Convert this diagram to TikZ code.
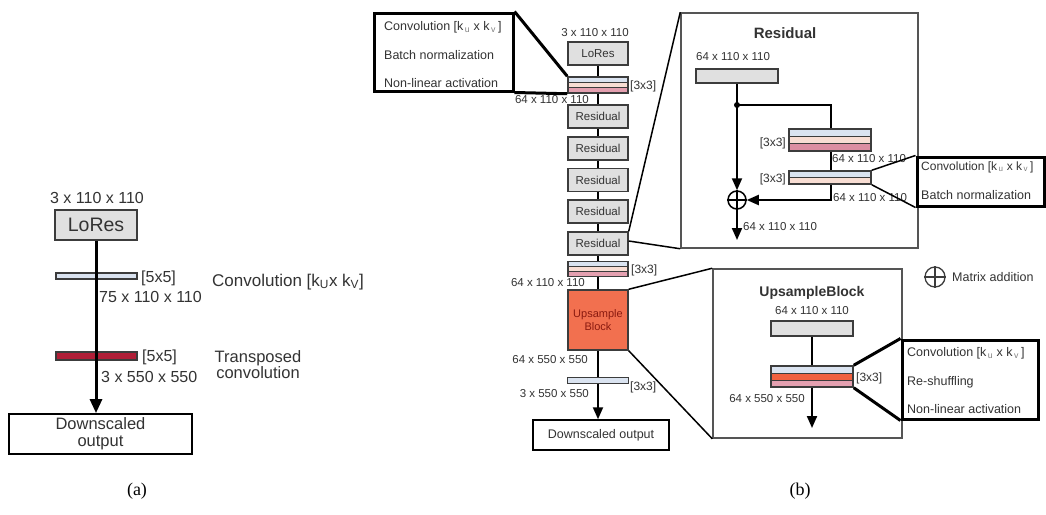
\documentclass[tikz,border=0pt]{standalone}
\usepackage{fontspec}
\setmainfont{Liberation Sans}
\newfontfamily\capfont{Liberation Serif}
\usetikzlibrary{calc,arrows.meta}
\definecolor{bord}{HTML}{3C3C3C}
\definecolor{txt}{HTML}{333333}
\definecolor{boxgray}{HTML}{E0E0E0}
\definecolor{cblue}{HTML}{DAE3F0}
\definecolor{cpeach}{HTML}{F8DDD3}
\definecolor{cpink}{HTML}{E4A0B0}
\definecolor{cpinkd}{HTML}{DC8EA2}
\definecolor{cred}{HTML}{F0603F}
\definecolor{upfill}{HTML}{F2704F}
\definecolor{uptext}{HTML}{8A1A10}
\definecolor{tconv}{HTML}{B01E37}
\definecolor{insetgray}{HTML}{555555}
\tikzset{
  fa/.style={font=\fontsize{16}{19}\selectfont, text=txt, inner sep=0pt},
  fb/.style={font=\fontsize{11.5}{13}\selectfont, text=txt, inner sep=0pt},
  fk/.style={font=\fontsize{12}{14}\selectfont, text=txt, inner sep=0pt},
  fi/.style={font=\fontsize{12.5}{14}\selectfont, text=txt, inner sep=0pt, anchor=west},
  blk/.style={draw=bord, line width=1.5pt, inner sep=0pt},
  graybox/.style={blk, fill=boxgray},
  insetbox/.style={draw=black, line width=3pt, inner sep=0pt},
  zoombox/.style={draw=insetgray, line width=1.5pt, inner sep=0pt},
  flow/.style={draw=black, line width=2pt},
  flowa/.style={draw=black, line width=3pt},
  tipb/.style={-{Triangle[length=12pt,width=10pt]}},
  tipa/.style={-{Triangle[length=14pt,width=12pt]}},
  link/.style={draw=black, line width=1.5pt},
  thicklink/.style={draw=black, line width=3pt},
  stripesthree/.style n args={3}{path picture={
    \coordinate (sNW) at (path picture bounding box.north west);
    \coordinate (sSE) at (path picture bounding box.south east);
    \coordinate (sNE) at (sSE|-sNW);
    \coordinate (sA) at ($(sNE)!0.3333!(sSE)$);
    \coordinate (sB) at ($(sNE)!0.6667!(sSE)$);
    \fill[#1] (sNW) rectangle (sA);
    \fill[#2] (sNW|-sA) rectangle (sB);
    \fill[#3] (sNW|-sB) rectangle (sSE);
    \draw[bord, line width=1pt] (sNW|-sA) -- (sA) (sNW|-sB) -- (sB);
  }},
  stripestwo/.style n args={2}{path picture={
    \coordinate (sNW) at (path picture bounding box.north west);
    \coordinate (sSE) at (path picture bounding box.south east);
    \coordinate (sNE) at (sSE|-sNW);
    \coordinate (sA) at ($(sNE)!0.5!(sSE)$);
    \fill[#1] (sNW) rectangle (sA);
    \fill[#2] (sNW|-sA) rectangle (sSE);
    \draw[bord, line width=1pt] (sNW|-sA) -- (sA);
  }},
}
\newcommand\kuv{Convolution [k\textsubscript{\,\color{gray}u} x k\textsubscript{\,\color{gray}v}\,]}
\begin{document}
\begin{tikzpicture}[x=1pt,y=-1pt]
\useasboundingbox[fill=white] (0,0) rectangle (1046,514);

% ================= Panel (a) =================
\node[fa] (aDim) at (97,198) {3 x 110 x 110};
\node[graybox, line width=1.8pt, minimum width=82pt, minimum height=30pt,
      font=\fontsize{19.5}{22}\selectfont, text=txt] (aLo) at (96,225) {LoRes};
\node[blk, fill=cblue, minimum width=81pt, minimum height=6pt] (aConv) at (96.5,276) {};
\node[fa, anchor=west] (aK1) at (141,278) {[5x5]};
\node[fa, anchor=west, font=\fontsize{17}{20}\selectfont] (aConvLbl) at (212,282)
      {Convolution [k\textsubscript{U}x k\textsubscript{V}]};
\node[fa, anchor=west] (aDim2) at (99,297) {75 x 110 x 110};
\node[blk, fill=tconv, minimum width=81pt, minimum height=8pt] (aTconv) at (96.5,356) {};
\node[fa, anchor=west] (aK2) at (142,357) {[5x5]};
\node[fa, align=center, font=\fontsize{16.5}{16}\selectfont] (aTLbl) at (258,365) {Transposed\\convolution};
\node[fa, anchor=west] (aDim3) at (101,377) {3 x 550 x 550};
\node[blk, draw=black, line width=1.8pt, minimum width=183pt, minimum height=40pt, align=center,
      font=\fontsize{16.5}{17}\selectfont, text=txt] (aOut) at (100.5,434) {Downscaled\\output};
\draw[flowa, tipa] (aLo.south) -- (aLo.south |- aOut.north);
\node[blk, fill=cblue, minimum width=81pt, minimum height=6pt] at (aConv) {};
\node[blk, fill=tconv, minimum width=81pt, minimum height=8pt] at (aTconv) {};
\draw[flowa] (aConv.north -| aLo.south) -- (aConv.south -| aLo.south);
\draw[flowa] (aTconv.north -| aLo.south) -- (aTconv.south -| aLo.south);

\node[font=\capfont\fontsize{18}{20}\selectfont, inner sep=0pt] (capA) at (137,491) {(a)};

% ================= Panel (b) main column =================
\node[fb] (bDim0) at (595,33) {3 x 110 x 110};
\node[graybox, minimum width=60pt, minimum height=23pt, font=\fontsize{11.5}{13}\selectfont, text=txt] (bLo) at (598,53.5) {LoRes};
\node[blk, minimum width=60pt, minimum height=16pt, stripesthree={cblue}{cpeach}{cpink}] (bConv1) at (598,85) {};
\node[fk, anchor=west] (bK1) at (630,86) {[3x3]};
\node[fb, anchor=east] (bDim1) at (589,100) {64 x 110 x 110};
\foreach \i/\y in {1/116.5,2/148.5,3/180,4/211.5,5/243.5}{
  \node[graybox, minimum width=60pt, minimum height=23pt, font=\fontsize{11.5}{13}\selectfont, text=txt] (bRes\i) at (598,\y) {Residual};
}
\node[blk, minimum width=60pt, minimum height=15pt, stripesthree={cblue}{cpeach}{cpink}] (bConv2) at (598,269) {};
\node[fk, anchor=west] (bK2) at (631,270) {[3x3]};
\node[fb, anchor=east] (bDim2) at (585,283) {64 x 110 x 110};
\node[blk, fill=upfill, minimum width=60pt, minimum height=60pt, align=center,
      font=\fontsize{11}{13}\selectfont, text=uptext] (bUp) at (598,320) {Upsample\\Block};
\node[fb, anchor=east] (bDim3) at (588,360) {64 x 550 x 550};
\node[blk, fill=cblue, minimum width=61pt, minimum height=6pt] (bConv3) at (598,380.5) {};
\node[fk, anchor=west] (bK3) at (630,387) {[3x3]};
\node[fb, anchor=east] (bDim4) at (589,394) {3 x 550 x 550};
\node[blk, draw=black, minimum width=136pt, minimum height=30pt, font=\fontsize{12.5}{14}\selectfont, text=txt] (bOut) at (601,435) {Downscaled output};

\draw[flow] (bLo) -- (bConv1);
\draw[flow] (bConv1) -- (bRes1);
\draw[flow] (bRes1) -- (bRes2);
\draw[flow] (bRes2) -- (bRes3);
\draw[flow] (bRes3) -- (bRes4);
\draw[flow] (bRes4) -- (bRes5);
\draw[flow] (bRes5) -- (bConv2);
\draw[flow] (bConv2) -- (bUp);
\draw[flow] (bUp) -- (bConv3);
\draw[flow, tipb] (bConv3.south) -- (bConv3.south |- bOut.north);

% inset for first conv block
\node[insetbox, minimum width=139pt, minimum height=78pt] (inset1) at (443.5,52) {};
\node[fi] (i1a) at (384,27) {\kuv};
\node[fi] (i1b) at (384,55) {Batch normalization};
\node[fi] (i1c) at (384,83) {Non-linear activation};
\draw[thicklink] (inset1.north east) -- (bConv1.north west);
\draw[thicklink] (inset1.south east) -- (bConv1.south west);

\node[font=\capfont\fontsize{18}{20}\selectfont, inner sep=0pt] (capB) at (800,491) {(b)};

% ================= Residual zoom =================
\node[zoombox, minimum width=237pt, minimum height=235pt] (rBox) at (799.5,130.5) {};
\draw[link] (bRes5.north east) -- (rBox.north west);
\draw[link] ([yshift=2.5pt]bRes5.east) -- (rBox.south west);
\node[font=\bfseries\fontsize{15}{17}\selectfont, text=txt, inner sep=0pt] (rTitle) at (785,33) {Residual};
\node[fb, anchor=west] (rDim0) at (696,57) {64 x 110 x 110};
\node[graybox, minimum width=82pt, minimum height=14pt] (rIn) at (737,76) {};
\coordinate (rDot) at (737,105);
\node[blk, minimum width=82pt, minimum height=22pt, stripesthree={cblue}{cpeach}{cpinkd}] (rC1) at (830,140) {};
\node[fk, anchor=east] (rK1) at (786,143) {[3x3]};
\node[fb, anchor=west] (rDimA) at (832,159) {64 x 110 x 110};
\node[blk, minimum width=82pt, minimum height=13pt, stripestwo={cblue}{cpeach}] (rC2) at (830,177.5) {};
\node[fk, anchor=east] (rK2) at (786,179) {[3x3]};
\node[fb, anchor=west] (rDimB) at (833,198) {64 x 110 x 110};
\node[circle, draw=black, line width=1.5pt, minimum size=18pt, inner sep=0pt] (rPlus) at (737,200) {};
\draw[black, line width=1.2pt] (rPlus.north) -- (rPlus.south) (rPlus.west) -- (rPlus.east);
\coordinate (rEnd) at (737,240);
\node[fb, anchor=west] (rDimC) at (743,227) {64 x 110 x 110};
\draw[flow] (rIn.south) -- (rDot);
\fill[black] (rDot) circle (3pt);
\draw[flow, tipb] (rDot) -- (rPlus.north);
\draw[flow] (rDot) -| (rC1.north -| 831,0);
\draw[flow] (rC1.south -| 831,0) -- (rC2.north -| 831,0);
\draw[flow, tipb] (rC2.south -| 831,0) |- (rPlus.east);
\draw[flow, tipb] (rPlus.south) -- (rEnd);

\node[insetbox, minimum width=127pt, minimum height=49pt] (inset2) at (980.5,181.5) {};
\node[fi, font=\fontsize{12}{14}\selectfont] (i2a) at (921,167) {\kuv};
\node[fi] (i2b) at (921,195) {Batch normalization};
\draw[link] (rC2.north east) -- (inset2.north west);
\draw[link] (rC2.south east) -- (inset2.south west);

% ================= Upsample zoom =================
\node[zoombox, minimum width=189pt, minimum height=169pt] (uBox) at (807.5,353.5) {};
\draw[link] (bUp.north east) -- (uBox.north west);
\draw[link] (bUp.south east) -- (uBox.south west);
\node[font=\bfseries\fontsize{14}{16}\selectfont, text=txt, inner sep=0pt] (uTitle) at (812,293) {UpsampleBlock};
\node[fb] (uDim0) at (812,311) {64 x 110 x 110};
\node[graybox, minimum width=82pt, minimum height=15pt] (uIn) at (812,328.5) {};
\node[blk, minimum width=82pt, minimum height=21pt, stripesthree={cblue}{cred}{cpink}] (uC) at (812,376.5) {};
\node[fk, anchor=west] (uK) at (856,378) {[3x3]};
\node[fb] (uDim1) at (767,399) {64 x 550 x 550};
\coordinate (uEnd) at (812,428);
\draw[flow] (uIn) -- (uC);
\draw[flow, tipb] (uC.south) -- (uEnd);

\node[insetbox, minimum width=136pt, minimum height=79pt] (inset3) at (970,379.5) {};
\node[fi] (i3a) at (907,353) {\kuv};
\node[fi] (i3b) at (907,382) {Re-shuffling};
\node[fi] (i3c) at (907,409) {Non-linear activation};
\draw[thicklink] (uC.north east) -- (inset3.north west);
\draw[thicklink] (uC.south east) -- (inset3.south west);

% ================= Legend =================
\node[circle, draw=bord, line width=1.3pt, minimum size=20pt, inner sep=0pt] (lPlus) at (935,277) {};
\draw[bord, line width=1.2pt] (lPlus.north) -- (lPlus.south) (lPlus.west) -- (lPlus.east);
\node[fi] (lText) at (952,277) {Matrix addition};
\end{tikzpicture}
\end{document}
